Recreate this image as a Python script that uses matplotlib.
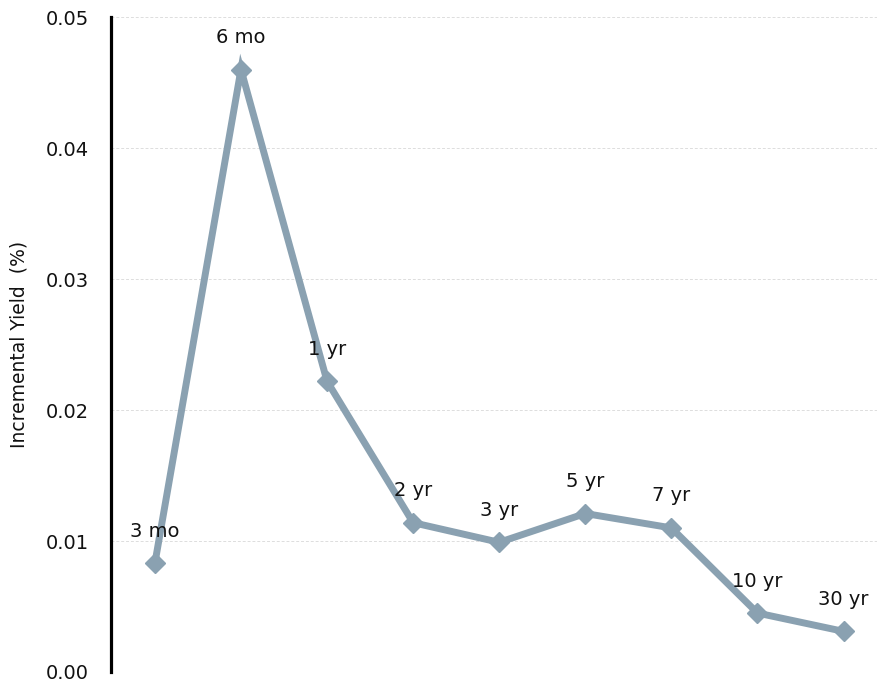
import matplotlib
matplotlib.use("Agg")
import matplotlib.pyplot as plt

tenors = ["3 mo", "6 mo", "1 yr", "2 yr", "3 yr", "5 yr", "7 yr", "10 yr", "30 yr"]
incremental_yield = [0.0083, 0.0460, 0.0222, 0.0114, 0.0099, 0.0121, 0.0110, 0.0045, 0.0031]
y_ticks = [0.00, 0.01, 0.02, 0.03, 0.04, 0.05]

line_color = "#8aa1b1"

fig = plt.figure(figsize=(8.78, 6.85), dpi=100)
ax = fig.add_axes([0.1264, 0.019, 0.8736, 0.956])

x = list(range(len(tenors)))
ax.plot(x, incremental_yield, color=line_color, linewidth=5, marker="D",
        markersize=10, zorder=3, solid_joinstyle="miter")

for xi, yi, name in zip(x, incremental_yield, tenors):
    ax.annotate(name, (xi, yi), xytext=(0, 23), textcoords="offset points",
                ha="center", va="center", fontsize=14, color="#111111")

ax.set_xlim(-0.51, 8.4)
ax.set_ylim(0, 0.05)
ax.set_yticks(y_ticks)
ax.set_yticklabels([f"{t:.2f}" for t in y_ticks], fontsize=14, color="#111111")
ax.set_xticks([])
ax.tick_params(axis="y", length=0, pad=16)
ax.yaxis.grid(True, color="#dddddd", linestyle=(0, (3, 2)), linewidth=0.7)
ax.set_axisbelow(True)

for side in ["top", "right", "bottom"]:
    ax.spines[side].set_visible(False)
ax.spines["left"].set_linewidth(2.3)
ax.spines["left"].set_color("black")

ax.set_ylabel("Incremental Yield  (%)", fontsize=13.5, color="#111111", labelpad=12)

fig.savefig("out.png", dpi=100)
